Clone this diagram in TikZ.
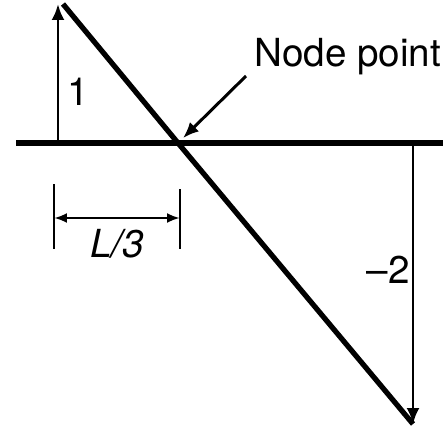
\documentclass[tikz,border=0pt]{standalone}
\usepackage{fontspec}
\setmainfont{TeX Gyre Heros}
\usetikzlibrary{arrows.meta}

\begin{document}
\begin{tikzpicture}[x=0.02cm,y=-0.02cm,>={Latex[length=0.32cm,width=0.26cm]},
    font=\fontsize{22}{25}\selectfont,
    heavy/.style={line width=3pt},
    light/.style={line width=1.7pt}]
      \useasboundingbox (0,0) rectangle (443,429);
      % axis and end values
      \coordinate (o) at (58,143);
      \coordinate (a) at (58,4);
      \coordinate (n) at (178,143);
      \coordinate (b) at (413,143);
      \coordinate (c) at (413,424);
      \coordinate (top) at (63,4);
      \draw[heavy] (16,143) -- (443,143);
      \draw[light,->] (o) -- (a);
      \draw[light,->] (b) -- (c);
      \draw[heavy] (top) -- (n) -- (c);
      \node (one) at (78,92) {1};
      \node (mtwo) at (388,270) {--2};
      % node point label
      \node[anchor=west] (np) at (248,57) {Node point};
      \coordinate (lead) at (246,76);
      \draw[light,->,shorten >=0.14cm] (lead) -- (n);
      % dimension L/3
      \coordinate (d1) at (54,218);
      \coordinate (d2) at (180,218);
      \draw[light] (d1) ++(0,-34) -- ++(0,65);
      \draw[light] (d2) ++(0,-29) -- ++(0,60);
      \draw[light,{Latex[length=0.26cm,width=0.2cm]}-{Latex[length=0.26cm,width=0.2cm]}] (d1) -- (d2)
        node[midway,below=2pt] (len) {\itshape L/3};
\end{tikzpicture}
\end{document}
